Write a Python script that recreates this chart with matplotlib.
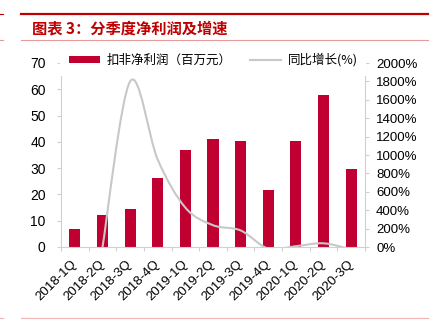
import numpy as np
import matplotlib
matplotlib.use('Agg')
import matplotlib.pyplot as plt
from matplotlib.path import Path
from matplotlib.patches import PathPatch, Patch
from matplotlib.lines import Line2D

plt.rcParams['font.family'] = ['Liberation Sans', 'Noto Sans CJK SC', 'DejaVu Sans']

# quarterly data
quarters = ['2018-1Q', '2018-2Q', '2018-3Q', '2018-4Q', '2019-1Q', '2019-2Q',
            '2019-3Q', '2019-4Q', '2020-1Q', '2020-2Q', '2020-3Q']
profit = [7.0, 12.2, 14.4, 26.2, 37.0, 41.1, 40.4, 21.5, 40.4, 57.7, 29.8]
growth = [np.nan, -5, 1800, 950, 428, 237, 180, -18, 9, 40, -26]

BAR_RED = '#c00030'
TITLE_RED = '#c00000'
GRID_GRAY = '#d0d0d0'
LINE_GRAY = '#c8c8c8'


def smooth_path(xs, ys):
    # cubic bezier through the points, like a spreadsheet "smoothed line"
    pts = [(x, y) for x, y in zip(xs, ys) if not np.isnan(y)]
    n = len(pts)
    verts = [pts[0]]
    codes = [Path.MOVETO]
    for i in range(n - 1):
        p0 = np.array(pts[i - 1] if i > 0 else pts[i])
        p1 = np.array(pts[i])
        p2 = np.array(pts[i + 1])
        p3 = np.array(pts[i + 2] if i + 2 < n else pts[i + 1])
        c1 = p1 + (p2 - p0) / 6
        c2 = p2 - (p3 - p1) / 6
        verts += [tuple(c1), tuple(c2), tuple(p2)]
        codes += [Path.CURVE4] * 3
    return Path(verts, codes)


fig = plt.figure(figsize=(4.34, 3.25), dpi=100)
ax = fig.add_axes([61 / 434, 1 - 247 / 325, 304 / 434, 184 / 325])
ax2 = ax.twinx()

x = np.arange(len(quarters))
ax.bar(x, profit, width=0.4, color=BAR_RED, zorder=2)
ax.set_xlim(-0.5, len(quarters) - 0.5)
ax.set_ylim(0, 70)
ax.set_yticks(range(0, 71, 10))

ax.set_xticks(x)
ax.set_xticklabels(quarters, rotation=45, ha='right', rotation_mode='anchor',
                   fontsize=9.5, va='center')
ax.set_xticks(np.arange(-0.5, len(quarters)), minor=True)
ax.tick_params(axis='x', which='major', length=0, pad=11)
ax.tick_params(axis='x', which='minor', length=3, color=GRID_GRAY, width=0.8)
ax.tick_params(axis='y', length=3, color=GRID_GRAY, width=0.8, pad=8,
               labelsize=10)

for side in ['top', 'right']:
    ax.spines[side].set_visible(False)
for side in ['left', 'bottom']:
    ax.spines[side].set_color(GRID_GRAY)
    ax.spines[side].set_linewidth(0.8)

# growth line on the right axis
ax2.add_patch(PathPatch(smooth_path(x, growth), facecolor='none',
                        edgecolor=LINE_GRAY, lw=1.5, zorder=3))
ax2.set_ylim(0, 2000)
ax2.set_yticks(range(0, 2001, 200))
ax2.set_yticklabels([f'{v}%' for v in range(0, 2001, 200)])
ax2.tick_params(axis='y', length=3, color=GRID_GRAY, width=0.8, pad=5,
                labelsize=9.5)
for side in ['top', 'left', 'bottom']:
    ax2.spines[side].set_visible(False)
ax2.spines['right'].set_color(GRID_GRAY)
ax2.spines['right'].set_linewidth(0.8)

handles = [Patch(facecolor=BAR_RED, edgecolor='none'),
           Line2D([], [], color=LINE_GRAY, lw=1.5)]
labels = ['扣非净利润（百万元）', '同比增长(%)']
leg = fig.legend(handles, labels, loc='center left', ncol=2,
                 bbox_to_anchor=(60 / 434, 1 - 60 / 325),
                 bbox_transform=fig.transFigure, borderaxespad=0,
                 borderpad=0.7, handlelength=2.5, handleheight=0.5,
                 handletextpad=0.5, columnspacing=1.5, frameon=True,
                 fancybox=False, prop={'family': ['Noto Sans CJK SC'], 'size': 9})
leg.get_frame().set_facecolor('white')
leg.get_frame().set_edgecolor('none')
leg.get_frame().set_alpha(1)

# header and footer rules
fig.add_artist(Line2D([20.7 / 434, 428 / 434], [1 - 14 / 325] * 2,
                      color=TITLE_RED, lw=1.6))
fig.add_artist(Line2D([0, 3 / 434], [1 - 14 / 325] * 2, color=TITLE_RED, lw=0.8))
fig.add_artist(Line2D([20.7 / 434, 428 / 434], [1 - 40 / 325] * 2,
                      color='#e79a9a', lw=0.8))
fig.add_artist(Line2D([0, 3 / 434], [1 - 40 / 325] * 2, color='#e79a9a', lw=0.8))
fig.add_artist(Line2D([20.7 / 434, 428 / 434], [1 - 318 / 325] * 2,
                      color='#f0b4b4', lw=0.8))
fig.add_artist(Line2D([0, 3 / 434], [1 - 318 / 325] * 2, color='#f0b4b4', lw=0.8))

fig.text(32 / 434, 1 - 28 / 325, '图表 3：分季度净利润及增速', color=TITLE_RED,
         fontsize=11, fontweight='bold', style='italic', va='center',
         family=['Noto Sans CJK SC', 'DejaVu Sans'])

fig.savefig('out.png', dpi=100)
